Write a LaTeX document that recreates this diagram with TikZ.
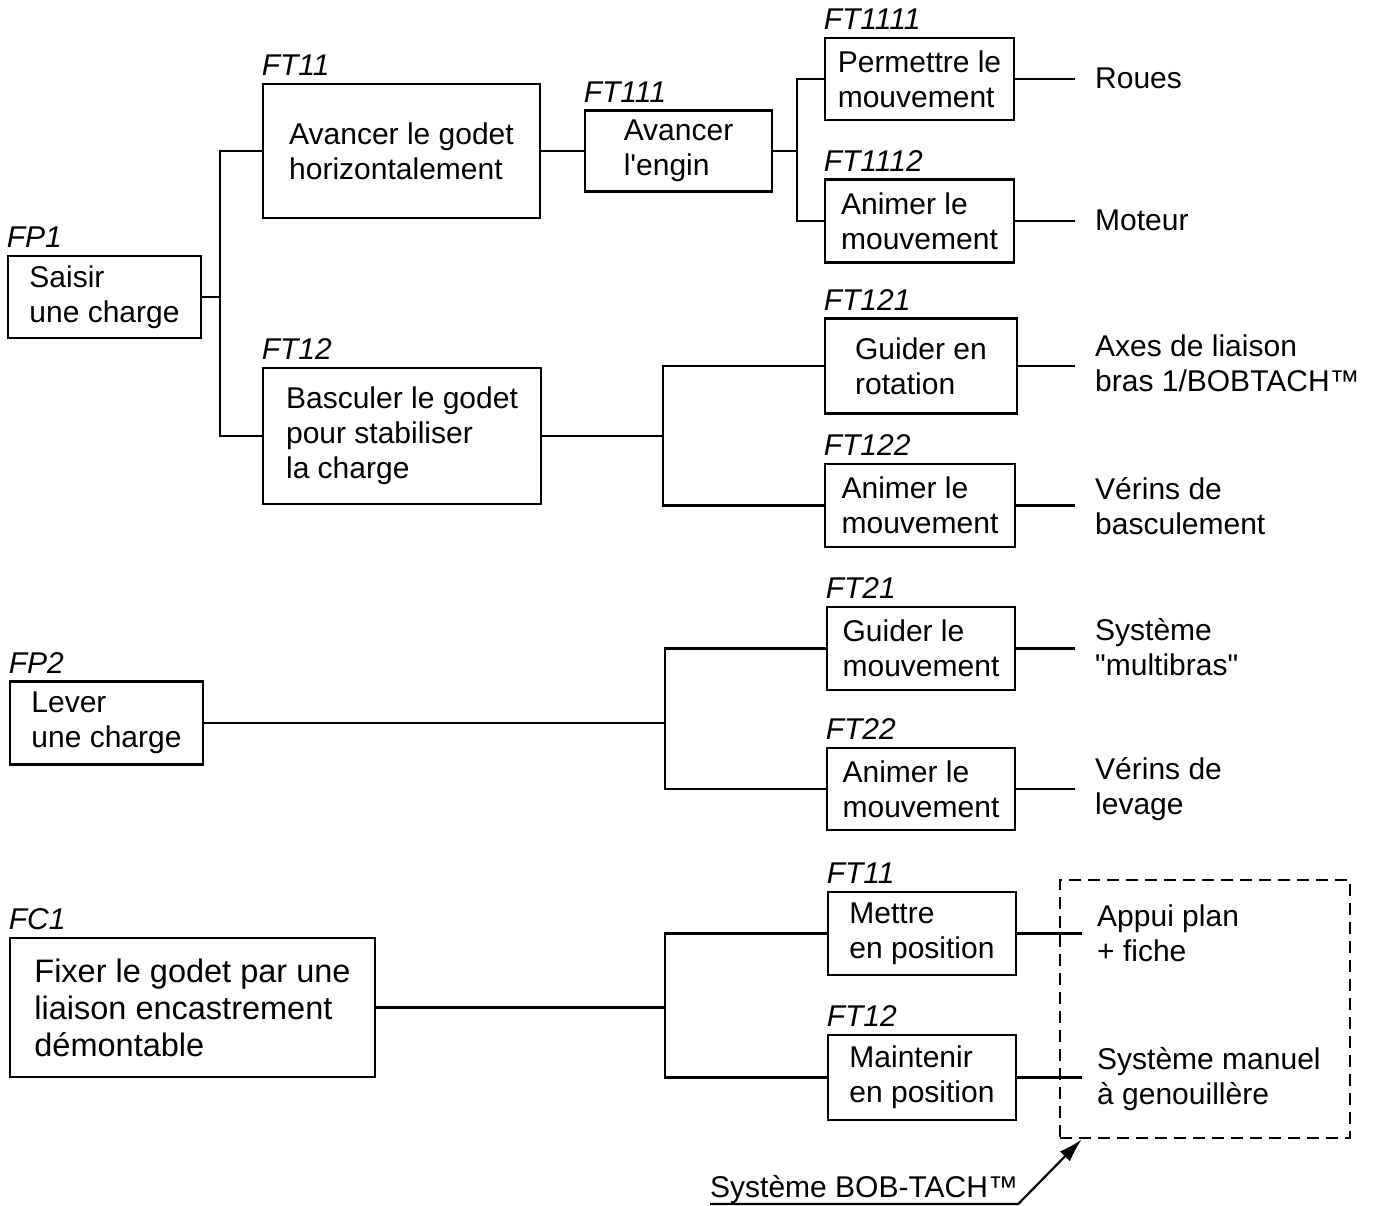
\documentclass[tikz,border=0pt]{standalone}
\usepackage{fontspec}
\newfontfamily\arial{Liberation Sans}
\usetikzlibrary{arrows.meta}
\newcommand{\txt}{\arial\fontsize{30}{35}\selectfont}
\tikzstyle{link} = [line width=2.8pt]
\tikzstyle{block} = [draw, rectangle, line width=2.8pt, align=left, inner sep=0pt, font=\txt]
\tikzstyle{fname} = [anchor=base west, inner sep=0pt, yshift=7pt, font=\txt\itshape]
\tikzstyle{leaf} = [anchor=west, align=left, inner xsep=20pt, inner ysep=0pt, font=\txt]
\tikzstyle{group} = [draw, rectangle, line width=2.4pt, dash pattern=on 12pt off 7pt]

\begin{document}
\begin{tikzpicture}[x=1pt, y=-1pt]
        \useasboundingbox (0,0) rectangle (1380,1205);
        % fonction FP1
        \node[block, minimum width=193pt, minimum height=82pt, label={[fname]north west:FP1}](FP1) at (104.5,297) {Saisir\\une charge};
        \node[block, minimum width=277pt, minimum height=134pt, label={[fname]north west:FT11}](FT11) at (401.5,151) {Avancer le godet\\horizontalement};
        \node[block, minimum width=278pt, minimum height=136pt, label={[fname]north west:FT12}](FT12) at (402,436) {Basculer le godet\\pour stabiliser\\la charge};
        \node[block, minimum width=187pt, minimum height=81pt, label={[fname]north west:FT111}](FT111) at (678.5,151) {Avancer\\l'engin};
        \node[block, minimum width=189pt, minimum height=82pt, label={[fname]north west:FT1111}](FT1111) at (919.5,79) {Permettre le\\mouvement};
        \node[block, minimum width=189pt, minimum height=83pt, label={[fname]north west:FT1112}](FT1112) at (919.5,221) {Animer le\\mouvement};
        \node[block, minimum width=192pt, minimum height=95pt, label={[fname]north west:FT121}](FT121) at (921,366) {Guider en\\rotation};
        \node[block, minimum width=190pt, minimum height=83pt, label={[fname]north west:FT122}](FT122) at (920,505.5) {Animer le\\mouvement};
        \node[leaf](Roues) at (1075,78) {Roues};
        \node[leaf](Moteur) at (1075,220) {Moteur};
        \node[leaf](Axes) at (1075,363) {Axes de liaison\\bras 1/BOBTACH™};
        \node[leaf](VerinsB) at (1075,506) {Vérins de\\basculement};
        \coordinate (J1) at (220,0);
        \coordinate (J2) at (797,0);
        \coordinate (J3) at (663,0);
        \draw[link](FP1.east) -- (FP1.east -| J1);
        \draw[link](FT11.west) -| (J1 |- FP1.east) |- (FT12.west);
        \draw[link](FT11.east) -- (FT111.west);
        \draw[link](FT111.east) -- (FT111.east -| J2);
        \draw[link](FT1111.west) -| (J2 |- FT111.east) |- (FT1112.west);
        \draw[link](FT12.east) -- (FT12.east -| J3);
        \draw[link](FT121.west) -| (J3 |- FT12.east) |- (FT122.west);
        \draw[link](FT1111.east) -- (FT1111.east -| Roues.west);
        \draw[link](FT1112.east) -- (FT1112.east -| Moteur.west);
        \draw[link](FT121.east) -- (FT121.east -| Axes.west);
        \draw[link](FT122.east) -- (FT122.east -| VerinsB.west);
        % fonction FP2
        \node[block, minimum width=193pt, minimum height=83pt, label={[fname]north west:FP2}](FP2) at (106.5,723) {Lever\\une charge};
        \node[block, minimum width=188pt, minimum height=83pt, label={[fname]north west:FT21}](FT21) at (921,648.5) {Guider le\\mouvement};
        \node[block, minimum width=188pt, minimum height=82pt, label={[fname]north west:FT22}](FT22) at (921,789) {Animer le\\mouvement};
        \node[leaf](Multibras) at (1075,647) {Système\\"multibras"};
        \node[leaf](VerinsL) at (1075,789) {Vérins de\\levage};
        \coordinate (J4) at (665,0);
        \draw[link](FP2.east) -- (FP2.east -| J4);
        \draw[link](FT21.west) -| (J4 |- FP2.east) |- (FT22.west);
        \draw[link](FT21.east) -- (FT21.east -| Multibras.west);
        \draw[link](FT22.east) -- (FT22.east -| VerinsL.west);
        % fonction FC1
        \node[block, minimum width=365pt, minimum height=139pt, font=\arial\fontsize{32.5}{37}\selectfont, label={[fname]north west:FC1}](FC1) at (192.5,1007.5) {Fixer le godet par une\\liaison encastrement\\démontable};
        \node[block, minimum width=188pt, minimum height=83pt, label={[fname]north west:FT11}](FT11c) at (922,933.5) {Mettre\\en position};
        \node[block, minimum width=188pt, minimum height=85pt, label={[fname]north west:FT12}](FT12c) at (922,1077.5) {Maintenir\\en position};
        \node[group, minimum width=290pt, minimum height=258pt](BobTach) at (1205,1009) {};
        \node[leaf, inner xsep=15pt](Appui) at (1082,933.5) {Appui plan\\+ fiche};
        \node[leaf, inner xsep=15pt](Genouillere) at (1082,1079) {Système manuel\\à genouillère};
        \coordinate (J5) at (665,0);
        \draw[link](FC1.east) -- (FC1.east -| J5);
        \draw[link](FT11c.west) -| (J5 |- FC1.east) |- (FT12c.west);
        \draw[link](FT11c.east) -- (FT11c.east -| Appui.west);
        \draw[link](FT12c.east) -- (FT12c.east -| Genouillere.west);
        \node[anchor=south west, inner sep=0pt, font=\txt](Note) at (710,1204) {Système BOB-TACH™};
        \draw[line width=2.2pt, -{Latex[length=24pt, width=14pt]}](Note.south west) -- (Note.south east) -- ([xshift=23pt]BobTach.south west);
    \end{tikzpicture}
\end{document}
